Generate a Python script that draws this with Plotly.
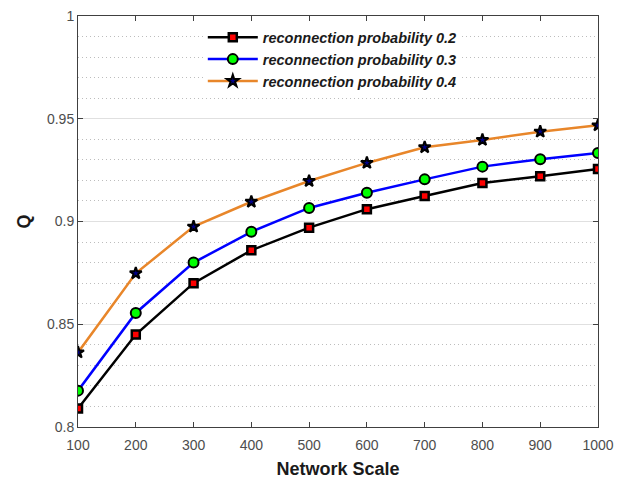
import plotly.graph_objects as go

scale = [100, 200, 300, 400, 500, 600, 700, 800, 900, 1000]
q_02 = [0.809, 0.845, 0.870, 0.886, 0.897, 0.906, 0.9124, 0.9187, 0.922, 0.9255]
q_03 = [0.8177, 0.8555, 0.880, 0.895, 0.9066, 0.914, 0.9205, 0.9267, 0.9303, 0.9333]
q_04 = [0.8363, 0.8748, 0.8975, 0.9096, 0.9197, 0.9285, 0.9361, 0.9397, 0.9437, 0.9468]
names = ["reconnection probability 0.2", "reconnection probability 0.3", "reconnection probability 0.4"]

fig = go.Figure()
fig.add_trace(go.Scatter(x=scale, y=q_02, name=names[0], mode="lines+markers",
                         line=dict(color="black", width=2.5),
                         marker=dict(symbol="square", size=8, color="red", line=dict(color="black", width=2.5))))
fig.add_trace(go.Scatter(x=scale, y=q_03, name=names[1], mode="lines+markers",
                         line=dict(color="#0000ff", width=2.5),
                         marker=dict(symbol="circle", size=10, color="#00ff00", line=dict(color="black", width=2))))
fig.add_trace(go.Scatter(x=scale, y=q_04, name=names[2], mode="lines+markers",
                         line=dict(color="#e8862a", width=2.5),
                         marker=dict(symbol="star", size=9, color="#00008b", line=dict(color="black", width=2))))

family = "Liberation Sans, Arial, sans-serif"
axis_font = dict(family=family, size=14, color="#4d4d4d")
fig.update_layout(
    width=619, height=471,
    margin=dict(l=70, r=29, t=8, b=52),
    plot_bgcolor="white", paper_bgcolor="white",
    showlegend=True,
    legend=dict(x=0.24, y=0.987, xanchor="left", yanchor="top",
                bgcolor="white", borderwidth=0, tracegroupgap=0, itemwidth=50,
                font=dict(family=family, size=14.5, color="#1a1a1a",
                          weight="bold", style="italic")),
    xaxis=dict(range=[100, 1000], tickvals=scale, ticks="inside", ticklen=5, tickcolor="#404040",
               showline=True, linecolor="#404040", linewidth=1, mirror="ticks", automargin=False,
               showgrid=False, zeroline=False, tickfont=axis_font, ticklabelstandoff=5,
               ticklabeloverflow="allow",
               title=dict(text="Network Scale", standoff=16,
                          font=dict(family=family, size=18, color="#1a1a1a", weight="bold"))),
    yaxis=dict(range=[0.8, 1.0], tickvals=[0.8, 0.85, 0.9, 0.95, 1.0], ticktext=["0.8", "0.85", "0.9", "0.95", "1"],
               ticks="inside", ticklen=5, tickcolor="#404040", automargin=False,
               ticklabeloverflow="allow",
               showline=True, linecolor="#404040", linewidth=1, mirror="ticks",
               showgrid=True, gridcolor="#e0e0e0", gridwidth=1, zeroline=False, tickfont=axis_font,
               minor=dict(dtick=0.01, tick0=0.8, showgrid=True, gridcolor="#bdbdbd", griddash="1px,3px", gridwidth=1, ticks=""),
               title=dict(text="Q", standoff=11,
                          font=dict(family=family, size=18, color="#1a1a1a", weight="bold"))),
)

fig.write_html("out.html")
